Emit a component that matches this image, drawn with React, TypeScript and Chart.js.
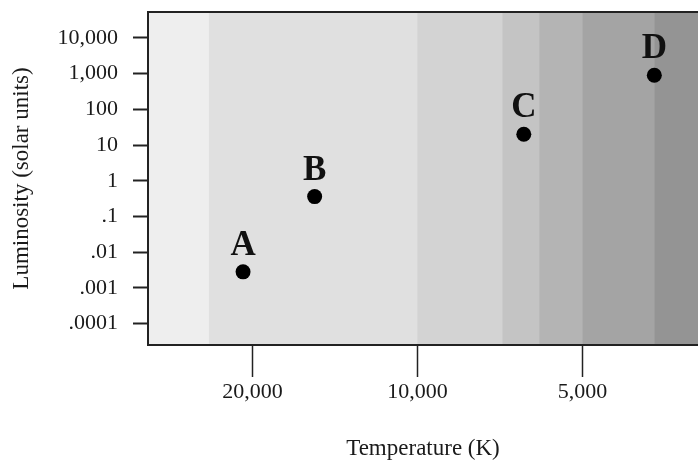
import React, { useEffect, useRef } from "react";
import { Chart, registerables } from "chart.js";

Chart.register(...registerables);

// ---- data ----
const STAR_NAMES = ["A", "B", "C", "D"];
const STAR_TEMPS = [20800, 15400, 6400, 3700];
const STAR_LUMS = [0.0028, 0.36, 20, 900];

const TEMP_TICKS = [20000, 10000, 5000];
const TEMP_TICK_LABELS = ["20,000", "10,000", "5,000"];
const LUM_TICKS = [10000, 1000, 100, 10, 1, 0.1, 0.01, 0.001, 0.0001];
const LUM_TICK_LABELS = ["10,000", "1,000", "100", "10", "1", ".1", ".01", ".001", ".0001"];

const TEMP_MIN = 3080;
const TEMP_MAX = 31000;
const LUM_MIN = 2.5e-5;
const LUM_MAX = 53500;

// temperature bands (hot -> cool) and their shades
const BAND_EDGES = [31000, 24000, 10000, 7000, 6000, 5000, 3700, 3080];
const BAND_COLORS = ["#eeeeee", "#e0e0e0", "#d3d3d3", "#c4c4c4", "#b4b4b4", "#a4a4a4", "#949494"];

const X_TITLE = "Temperature (K)";
const Y_TITLE = "Luminosity (solar units)";

const SERIF = "'Liberation Serif', 'Times New Roman', serif";
const INK = "#1a1a1a";

const bandsPlugin = {
  id: "bands",
  beforeDraw(chart: any) {
    const { ctx, chartArea, scales } = chart;
    const xs = scales.x;
    ctx.save();
    ctx.beginPath();
    ctx.rect(chartArea.left, chartArea.top, chartArea.right - chartArea.left, chartArea.bottom - chartArea.top);
    ctx.clip();
    for (let i = 0; i < BAND_COLORS.length; i++) {
      const a = xs.getPixelForValue(BAND_EDGES[i]);
      const b = xs.getPixelForValue(BAND_EDGES[i + 1]);
      ctx.fillStyle = BAND_COLORS[i];
      ctx.fillRect(Math.min(a, b), chartArea.top, Math.abs(b - a) + 0.5, chartArea.bottom - chartArea.top);
    }
    ctx.restore();
  },
  afterDraw(chart: any) {
    const { ctx, chartArea } = chart;
    ctx.save();
    ctx.strokeStyle = "#222";
    ctx.lineWidth = 2;
    ctx.beginPath();
    ctx.moveTo(chartArea.left - 1, chartArea.top);
    ctx.lineTo(chartArea.right, chartArea.top);
    ctx.stroke();
    ctx.restore();
  },
};

const pointLabelPlugin = {
  id: "pointLabels",
  afterDatasetsDraw(chart: any) {
    const { ctx } = chart;
    const meta = chart.getDatasetMeta(0);
    ctx.save();
    ctx.fillStyle = "#111";
    ctx.font = `bold 35px ${SERIF}`;
    ctx.textAlign = "center";
    ctx.textBaseline = "alphabetic";
    meta.data.forEach((el: any, i: number) => {
      ctx.fillText(STAR_NAMES[i], el.x, el.y - 17);
    });
    ctx.restore();
  },
};

export default function App() {
  const ref = useRef<HTMLCanvasElement | null>(null);

  useEffect(() => {
    if (!ref.current) return;
    const chart = new Chart(ref.current, {
      type: "scatter",
      data: {
        datasets: [
          {
            data: STAR_TEMPS.map((t, i) => ({ x: t, y: STAR_LUMS[i] })),
            backgroundColor: "#000",
            borderColor: "#000",
            pointRadius: 7.5,
            pointHoverRadius: 7.5,
            borderWidth: 0,
          },
        ],
      },
      options: {
        animation: false,
        responsive: false,
        devicePixelRatio: 1,
        layout: { autoPadding: false, padding: { top: 12, left: 0, right: 0, bottom: 0 } },
        plugins: { legend: { display: false }, tooltip: { enabled: false } },
        scales: {
          x: {
            type: "logarithmic",
            position: "bottom",
            reverse: true,
            min: TEMP_MIN,
            max: TEMP_MAX,
            afterBuildTicks: (s: any) => {
              s.ticks = TEMP_TICKS.map((v) => ({ value: v }));
            },
            afterFit: (s: any) => {
              s.height = 115;
              s.paddingLeft = 0;
              s.paddingRight = 0;
            },
            ticks: {
              autoSkip: false,
              maxRotation: 0,
              padding: 2.5,
              color: INK,
              font: { family: SERIF, size: 22 },
              callback: (_v: any, i: number) => TEMP_TICK_LABELS[i],
            },
            grid: {
              display: true,
              drawOnChartArea: false,
              drawTicks: true,
              tickLength: 32,
              tickColor: "#222",
              tickWidth: 1.5,
            },
            border: { display: true, color: "#222", width: 2 },
            title: {
              display: true,
              text: X_TITLE,
              color: INK,
              font: { family: SERIF, size: 23, lineHeight: 1 },
              padding: { top: 0, bottom: 0 },
            },
          },
          y: {
            type: "logarithmic",
            position: "left",
            min: LUM_MIN,
            max: LUM_MAX,
            afterBuildTicks: (s: any) => {
              s.ticks = LUM_TICKS.map((v) => ({ value: v }));
            },
            afterFit: (s: any) => {
              s.width = 148;
              s.paddingTop = 0;
              s.paddingBottom = 0;
            },
            ticks: {
              autoSkip: false,
              padding: 15,
              color: INK,
              font: { family: SERIF, size: 22, lineHeight: 1 },
              callback: (_v: any, i: number) => LUM_TICK_LABELS[i],
            },
            grid: {
              display: true,
              drawOnChartArea: false,
              drawTicks: true,
              tickLength: 15,
              tickColor: "#222",
              tickWidth: 2,
            },
            border: { display: true, color: "#222", width: 2 },
            title: {
              display: true,
              text: Y_TITLE,
              color: INK,
              font: { family: SERIF, size: 23, lineHeight: 1 },
              padding: { top: 10.5, bottom: 0 },
            },
          },
        },
      },
      plugins: [bandsPlugin, pointLabelPlugin],
    } as any);
    return () => chart.destroy();
  }, []);

  return (
    <div style={{ position: "fixed", left: 0, top: 0, width: 698, height: 460, background: "#fff" }}>
      <canvas ref={ref} width={698} height={460} style={{ display: "block", width: 698, height: 460 }} />
    </div>
  );
}
